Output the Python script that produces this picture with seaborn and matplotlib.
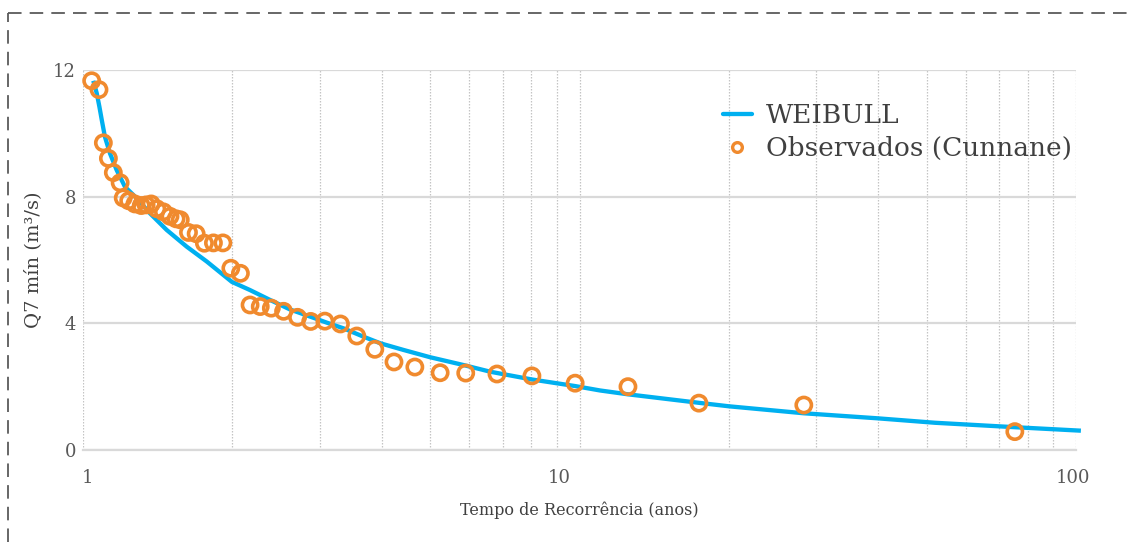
import matplotlib
matplotlib.use("Agg")
import matplotlib.pyplot as plt
from matplotlib.lines import Line2D
from matplotlib.transforms import ScaledTranslation
import seaborn as sns
import pandas as pd

# Observed points (Cunnane plotting position): return period (years) and Q7 min (m3/s)
obs_T = [1.041, 1.077, 1.099, 1.125, 1.151, 1.188, 1.205, 1.236, 1.272, 1.310,
         1.340, 1.372, 1.408, 1.452, 1.497, 1.540, 1.570, 1.631, 1.690, 1.756,
         1.831, 1.913, 1.985, 2.075, 2.170, 2.275, 2.395, 2.535, 2.705, 2.875,
         3.070, 3.300, 3.560, 3.870, 4.230, 4.660, 5.240, 5.900, 6.820, 8.020,
         9.800, 12.52, 17.40, 28.30, 75.30]
obs_Q = [11.66, 11.38, 9.70, 9.21, 8.76, 8.44, 7.96, 7.87, 7.77, 7.72,
         7.74, 7.77, 7.62, 7.52, 7.38, 7.30, 7.27, 6.87, 6.83, 6.53,
         6.54, 6.54, 5.74, 5.58, 4.58, 4.53, 4.48, 4.38, 4.19, 4.06,
         4.07, 3.98, 3.60, 3.18, 2.78, 2.62, 2.44, 2.43, 2.40, 2.34,
         2.11, 2.00, 1.48, 1.42, 0.58]

# WEIBULL fitted curve
weib_T = [1.049, 1.066, 1.079, 1.091, 1.107, 1.133, 1.169, 1.215, 1.283, 1.365,
          1.474, 1.618, 1.776, 1.994, 2.17, 2.38, 2.61, 2.87, 3.10, 3.35,
          3.67, 3.97, 4.42, 5.00, 5.85, 6.62, 8.00, 9.79, 11.0, 12.5,
          17.4, 20.0, 28.3, 39.9, 52.0, 75.3, 102.3]
weib_Q = [11.66, 11.26, 10.84, 10.42, 9.89, 9.37, 8.84, 8.31, 7.95, 7.47,
          6.95, 6.42, 5.95, 5.31, 5.05, 4.74, 4.44, 4.21, 4.02, 3.84,
          3.58, 3.37, 3.16, 2.93, 2.68, 2.47, 2.23, 2.02, 1.88, 1.76,
          1.49, 1.38, 1.16, 1.00, 0.86, 0.72, 0.61]

y_ticks = [0, 4, 8, 12]
x_ticks = [1, 10, 100]
x_tick_labels = ["1", "10", "100"]

line_label = "WEIBULL"
obs_label = "Observados (Cunnane)"
x_title = "Tempo de Recorrência (anos)"
y_title = "Q7 mín (m³/s)"

BLUE = "#00B0F0"
ORANGE = "#F08A2E"
GRAY_TXT = "#595959"

sns.set_theme(style="white")
plt.rcParams["font.family"] = ["DejaVu Serif", "DejaVu Sans"]

fig = plt.figure(figsize=(11.34, 5.42), dpi=100)
ax = fig.add_axes([83/1134, 1-450/542, (1076-83)/1134, (450-70)/542])

df_w = pd.DataFrame({"T": weib_T, "Q": weib_Q})
df_o = pd.DataFrame({"T": obs_T, "Q": obs_Q})

sns.lineplot(data=df_w, x="T", y="Q", ax=ax, color=BLUE, linewidth=3.1,
             sort=False, estimator=None, clip_on=False, zorder=3,
             solid_capstyle="butt", solid_joinstyle="round", label=line_label)
sns.scatterplot(data=df_o, x="T", y="Q", ax=ax, marker="o", s=120,
                facecolors="none", edgecolor=ORANGE, linewidth=2.6,
                clip_on=False, zorder=4, label=obs_label)

ax.set_xscale("log")
ax.set_xlim(1, 100)
ax.set_ylim(0, 12)
ax.set_yticks(y_ticks)
ax.set_yticklabels([str(v) for v in y_ticks])
ax.set_xticks(x_ticks)
ax.set_xticklabels(x_tick_labels)
ax.xaxis.set_minor_locator(matplotlib.ticker.LogLocator(base=10, subs=range(2, 10)))
ax.xaxis.set_minor_formatter(matplotlib.ticker.NullFormatter())

# grids
ax.yaxis.grid(True, color="#D9D9D9", linewidth=1.6, linestyle="-")
ax.xaxis.grid(True, which="both", color="#C4C4C4", linewidth=0.9, linestyle=(0, (1.2, 1.2)))
ax.set_axisbelow(True)
for s in ["left", "right", "top"]:
    ax.spines[s].set_visible(False)
ax.spines["bottom"].set_color("#D9D9D9")
ax.spines["bottom"].set_linewidth(1.6)
ax.tick_params(axis="both", which="both", length=0)
ax.tick_params(axis="y", labelsize=13, labelcolor=GRAY_TXT, pad=5)
ax.tick_params(axis="x", labelsize=13, labelcolor=GRAY_TXT, pad=14)

# Excel-like x tick label offsets
offs = [5, -20, -3]
for lab, o in zip(ax.get_xticklabels(), offs):
    lab.set_transform(lab.get_transform() + ScaledTranslation(o/100, 0, fig.dpi_scale_trans))

ax.set_xlabel(x_title, fontsize=11.5, color="#404040", labelpad=10)
ax.set_ylabel(y_title, fontsize=14, color="#404040", labelpad=8)

handles = [Line2D([], [], color=BLUE, linewidth=3.1),
           Line2D([], [], marker="o", linestyle="none", markersize=7,
                  markerfacecolor="none", markeredgecolor=ORANGE, markeredgewidth=2.4)]
leg = ax.legend(handles, [line_label, obs_label], loc="upper right",
                bbox_to_anchor=(1.012, 0.955), frameon=False, fontsize=19,
                handlelength=1.1, handletextpad=0.55, labelspacing=0.3,
                borderaxespad=0.2)
for t in leg.get_texts():
    t.set_color("#404040")

# dashed frame (top and left)
fig.add_artist(Line2D([8/1134, 1], [1-13/542, 1-13/542], transform=fig.transFigure,
                      color="#5A5A5A", linewidth=1.3, linestyle=(0, (7.5, 4.5))))
fig.add_artist(Line2D([8/1134, 8/1134], [0, 1-13/542], transform=fig.transFigure,
                      color="#5A5A5A", linewidth=1.3, linestyle=(0, (7.5, 4.5))))

fig.savefig("out.png", dpi=100)
